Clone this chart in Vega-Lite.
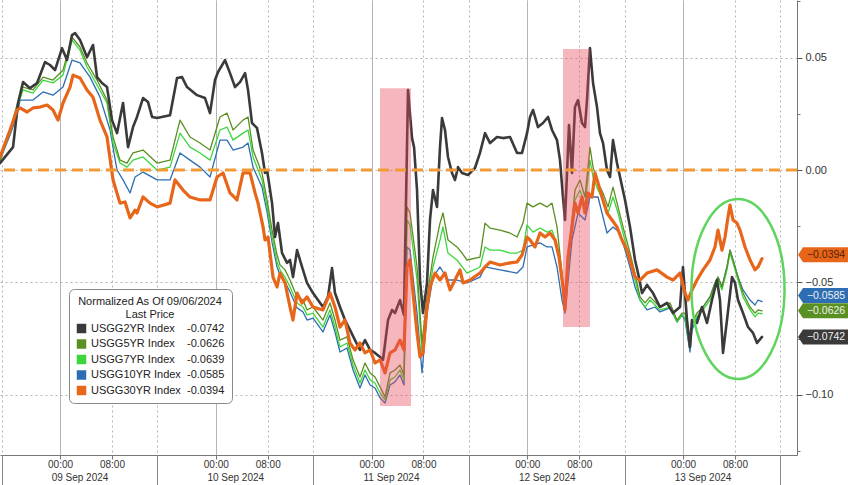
{
  "$schema": "https://vega.github.io/schema/vega-lite/v6.json",
  "width": 797,
  "height": 455,
  "autosize": {"type": "none"},
  "padding": {"left": 0, "top": 0, "right": 51, "bottom": 30},
  "background": "#ffffff",
  "config": {
    "view": {"stroke": null},
    "font": "Liberation Sans",
    "axis": {"labelFont": "Liberation Sans", "labelColor": "#333333", "labelFontSize": 11, "title": null},
    "legend": {"labelFont": "Liberation Sans", "titleFont": "Liberation Sans"}
  },
  "datasets": {
    "series": [
      {"s":"10YR","h":-9.25,"v":0.0044},{"s":"10YR","h":-7.70,"v":0.0156},{"s":"10YR","h":-6.63,"v":0.0244},{"s":"10YR","h":-6.16,"v":0.0311},{"s":"10YR","h":-4.16,"v":0.0311},{"s":"10YR","h":-2.62,"v":0.0347},{"s":"10YR","h":-1.08,"v":0.0333},{"s":"10YR","h":0.46,"v":0.0369},{"s":"10YR","h":1.85,"v":0.0489},{"s":"10YR","h":3.08,"v":0.0476},{"s":"10YR","h":4.62,"v":0.0413},{"s":"10YR","h":6.16,"v":0.0324},{"s":"10YR","h":7.70,"v":0.0178},{"s":"10YR","h":8.78,"v":0.0000},{"s":"10YR","h":9.71,"v":-0.0044},{"s":"10YR","h":10.79,"v":-0.0102},{"s":"10YR","h":11.56,"v":-0.0031},{"s":"10YR","h":12.79,"v":-0.0009},{"s":"10YR","h":14.95,"v":-0.0044},{"s":"10YR","h":16.95,"v":-0.0044},{"s":"10YR","h":18.49,"v":0.0076},{"s":"10YR","h":20.03,"v":0.0044},{"s":"10YR","h":21.57,"v":0.0013},{"s":"10YR","h":23.11,"v":-0.0031},{"s":"10YR","h":24.65,"v":0.0133},{"s":"10YR","h":25.73,"v":0.0133},{"s":"10YR","h":26.66,"v":0.0089},{"s":"10YR","h":28.20,"v":0.0102},{"s":"10YR","h":28.97,"v":0.0120},{"s":"10YR","h":29.74,"v":0.0013},{"s":"10YR","h":31.12,"v":-0.0076},{"s":"10YR","h":31.90,"v":-0.0187},{"s":"10YR","h":32.67,"v":-0.0320},{"s":"10YR","h":33.44,"v":-0.0431},{"s":"10YR","h":33.90,"v":-0.0467},{"s":"10YR","h":34.67,"v":-0.0498},{"s":"10YR","h":35.44,"v":-0.0542},{"s":"10YR","h":36.52,"v":-0.0613},{"s":"10YR","h":37.44,"v":-0.0631},{"s":"10YR","h":38.06,"v":-0.0667},{"s":"10YR","h":38.98,"v":-0.0658},{"s":"10YR","h":40.52,"v":-0.0720},{"s":"10YR","h":41.60,"v":-0.0644},{"s":"10YR","h":42.37,"v":-0.0720},{"s":"10YR","h":43.14,"v":-0.0809},{"s":"10YR","h":44.22,"v":-0.0791},{"s":"10YR","h":45.15,"v":-0.0889},{"s":"10YR","h":46.22,"v":-0.0969},{"s":"10YR","h":46.99,"v":-0.0911},{"s":"10YR","h":47.77,"v":-0.0956},{"s":"10YR","h":48.54,"v":-0.0969},{"s":"10YR","h":49.31,"v":-0.1013},{"s":"10YR","h":50.08,"v":-0.1036},{"s":"10YR","h":50.85,"v":-0.0956},{"s":"10YR","h":51.62,"v":-0.0942},{"s":"10YR","h":52.39,"v":-0.0911},{"s":"10YR","h":53.00,"v":-0.0956},{"s":"10YR","h":53.47,"v":-0.0342},{"s":"10YR","h":53.93,"v":-0.0356},{"s":"10YR","h":55.01,"v":-0.0636},{"s":"10YR","h":55.78,"v":-0.0902},{"s":"10YR","h":56.55,"v":-0.0636},{"s":"10YR","h":57.47,"v":-0.0476},{"s":"10YR","h":58.55,"v":-0.0431},{"s":"10YR","h":59.78,"v":-0.0489},{"s":"10YR","h":61.17,"v":-0.0489},{"s":"10YR","h":62.71,"v":-0.0502},{"s":"10YR","h":64.71,"v":-0.0476},{"s":"10YR","h":65.49,"v":-0.0431},{"s":"10YR","h":67.80,"v":-0.0444},{"s":"10YR","h":70.42,"v":-0.0458},{"s":"10YR","h":71.34,"v":-0.0431},{"s":"10YR","h":71.96,"v":-0.0342},{"s":"10YR","h":73.96,"v":-0.0324},{"s":"10YR","h":75.04,"v":-0.0342},{"s":"10YR","h":75.81,"v":-0.0342},{"s":"10YR","h":76.58,"v":-0.0431},{"s":"10YR","h":77.35,"v":-0.0578},{"s":"10YR","h":77.81,"v":-0.0636},{"s":"10YR","h":78.89,"v":-0.0311},{"s":"10YR","h":79.82,"v":-0.0191},{"s":"10YR","h":80.89,"v":-0.0222},{"s":"10YR","h":81.66,"v":-0.0120},{"s":"10YR","h":82.90,"v":-0.0120},{"s":"10YR","h":84.28,"v":-0.0280},{"s":"10YR","h":85.21,"v":-0.0253},{"s":"10YR","h":86.29,"v":-0.0280},{"s":"10YR","h":87.83,"v":-0.0431},{"s":"10YR","h":88.60,"v":-0.0520},{"s":"10YR","h":89.37,"v":-0.0578},{"s":"10YR","h":90.45,"v":-0.0622},{"s":"10YR","h":91.68,"v":-0.0609},{"s":"10YR","h":92.45,"v":-0.0631},{"s":"10YR","h":93.99,"v":-0.0613},{"s":"10YR","h":95.07,"v":-0.0676},{"s":"10YR","h":95.84,"v":-0.0644},{"s":"10YR","h":96.30,"v":-0.0667},{"s":"10YR","h":97.07,"v":-0.0809},{"s":"10YR","h":97.38,"v":-0.0711},{"s":"10YR","h":98.15,"v":-0.0658},{"s":"10YR","h":99.08,"v":-0.0609},{"s":"10YR","h":100.15,"v":-0.0564},{"s":"10YR","h":100.92,"v":-0.0502},{"s":"10YR","h":101.39,"v":-0.0476},{"s":"10YR","h":102.00,"v":-0.0520},{"s":"10YR","h":102.77,"v":-0.0431},{"s":"10YR","h":103.24,"v":-0.0356},{"s":"10YR","h":103.70,"v":-0.0400},{"s":"10YR","h":104.47,"v":-0.0476},{"s":"10YR","h":105.24,"v":-0.0533},{"s":"10YR","h":106.32,"v":-0.0578},{"s":"10YR","h":107.09,"v":-0.0600},{"s":"10YR","h":107.55,"v":-0.0578},{"s":"10YR","h":108.17,"v":-0.0585},

      {"s":"7YR","h":-9.25,"v":0.0044},{"s":"7YR","h":-7.70,"v":0.0169},{"s":"7YR","h":-6.63,"v":0.0276},{"s":"7YR","h":-5.70,"v":0.0356},{"s":"7YR","h":-4.16,"v":0.0342},{"s":"7YR","h":-2.62,"v":0.0400},{"s":"7YR","h":-1.08,"v":0.0387},{"s":"7YR","h":0.46,"v":0.0422},{"s":"7YR","h":1.85,"v":0.0578},{"s":"7YR","h":3.08,"v":0.0533},{"s":"7YR","h":4.16,"v":0.0458},{"s":"7YR","h":5.70,"v":0.0378},{"s":"7YR","h":7.24,"v":0.0298},{"s":"7YR","h":8.17,"v":0.0120},{"s":"7YR","h":9.24,"v":0.0031},{"s":"7YR","h":10.32,"v":0.0013},{"s":"7YR","h":11.25,"v":0.0044},{"s":"7YR","h":12.79,"v":0.0058},{"s":"7YR","h":14.95,"v":0.0000},{"s":"7YR","h":16.95,"v":0.0013},{"s":"7YR","h":18.49,"v":0.0164},{"s":"7YR","h":20.03,"v":0.0102},{"s":"7YR","h":21.57,"v":0.0076},{"s":"7YR","h":23.11,"v":0.0044},{"s":"7YR","h":24.65,"v":0.0178},{"s":"7YR","h":25.73,"v":0.0191},{"s":"7YR","h":26.66,"v":0.0133},{"s":"7YR","h":28.20,"v":0.0164},{"s":"7YR","h":28.97,"v":0.0178},{"s":"7YR","h":29.74,"v":0.0058},{"s":"7YR","h":31.12,"v":-0.0044},{"s":"7YR","h":31.90,"v":-0.0164},{"s":"7YR","h":32.67,"v":-0.0298},{"s":"7YR","h":33.44,"v":-0.0409},{"s":"7YR","h":33.90,"v":-0.0444},{"s":"7YR","h":34.67,"v":-0.0476},{"s":"7YR","h":35.44,"v":-0.0520},{"s":"7YR","h":36.52,"v":-0.0591},{"s":"7YR","h":37.44,"v":-0.0609},{"s":"7YR","h":38.06,"v":-0.0644},{"s":"7YR","h":38.98,"v":-0.0636},{"s":"7YR","h":40.52,"v":-0.0698},{"s":"7YR","h":41.60,"v":-0.0622},{"s":"7YR","h":42.37,"v":-0.0698},{"s":"7YR","h":43.14,"v":-0.0787},{"s":"7YR","h":44.22,"v":-0.0769},{"s":"7YR","h":45.15,"v":-0.0867},{"s":"7YR","h":46.22,"v":-0.0947},{"s":"7YR","h":46.99,"v":-0.0889},{"s":"7YR","h":47.77,"v":-0.0933},{"s":"7YR","h":48.54,"v":-0.0947},{"s":"7YR","h":49.31,"v":-0.0991},{"s":"7YR","h":50.08,"v":-0.1022},{"s":"7YR","h":50.85,"v":-0.0933},{"s":"7YR","h":51.62,"v":-0.0920},{"s":"7YR","h":52.39,"v":-0.0889},{"s":"7YR","h":53.00,"v":-0.0933},{"s":"7YR","h":53.47,"v":-0.0222},{"s":"7YR","h":53.93,"v":-0.0244},{"s":"7YR","h":55.01,"v":-0.0489},{"s":"7YR","h":55.78,"v":-0.0813},{"s":"7YR","h":56.55,"v":-0.0609},{"s":"7YR","h":57.47,"v":-0.0431},{"s":"7YR","h":58.55,"v":-0.0311},{"s":"7YR","h":59.01,"v":-0.0253},{"s":"7YR","h":59.78,"v":-0.0369},{"s":"7YR","h":61.17,"v":-0.0400},{"s":"7YR","h":62.71,"v":-0.0458},{"s":"7YR","h":64.71,"v":-0.0431},{"s":"7YR","h":65.49,"v":-0.0342},{"s":"7YR","h":66.26,"v":-0.0356},{"s":"7YR","h":67.80,"v":-0.0356},{"s":"7YR","h":69.34,"v":-0.0369},{"s":"7YR","h":70.42,"v":-0.0369},{"s":"7YR","h":71.34,"v":-0.0356},{"s":"7YR","h":71.96,"v":-0.0244},{"s":"7YR","h":72.88,"v":-0.0276},{"s":"7YR","h":73.96,"v":-0.0258},{"s":"7YR","h":75.04,"v":-0.0276},{"s":"7YR","h":75.81,"v":-0.0267},{"s":"7YR","h":76.58,"v":-0.0333},{"s":"7YR","h":77.35,"v":-0.0502},{"s":"7YR","h":77.81,"v":-0.0622},{"s":"7YR","h":78.58,"v":-0.0342},{"s":"7YR","h":79.35,"v":-0.0133},{"s":"7YR","h":80.12,"v":-0.0089},{"s":"7YR","h":80.89,"v":-0.0156},{"s":"7YR","h":81.66,"v":0.0044},{"s":"7YR","h":82.13,"v":-0.0031},{"s":"7YR","h":82.90,"v":-0.0089},{"s":"7YR","h":83.67,"v":-0.0133},{"s":"7YR","h":84.44,"v":-0.0191},{"s":"7YR","h":85.21,"v":-0.0120},{"s":"7YR","h":85.98,"v":-0.0191},{"s":"7YR","h":86.75,"v":-0.0280},{"s":"7YR","h":87.83,"v":-0.0400},{"s":"7YR","h":88.60,"v":-0.0489},{"s":"7YR","h":89.37,"v":-0.0578},{"s":"7YR","h":90.14,"v":-0.0609},{"s":"7YR","h":90.91,"v":-0.0578},{"s":"7YR","h":92.45,"v":-0.0622},{"s":"7YR","h":93.99,"v":-0.0609},{"s":"7YR","h":95.07,"v":-0.0676},{"s":"7YR","h":95.84,"v":-0.0644},{"s":"7YR","h":96.30,"v":-0.0658},{"s":"7YR","h":97.07,"v":-0.0791},{"s":"7YR","h":97.38,"v":-0.0693},{"s":"7YR","h":98.15,"v":-0.0649},{"s":"7YR","h":99.08,"v":-0.0622},{"s":"7YR","h":100.15,"v":-0.0578},{"s":"7YR","h":100.92,"v":-0.0520},{"s":"7YR","h":101.39,"v":-0.0489},{"s":"7YR","h":102.00,"v":-0.0533},{"s":"7YR","h":102.77,"v":-0.0444},{"s":"7YR","h":103.24,"v":-0.0369},{"s":"7YR","h":103.70,"v":-0.0413},{"s":"7YR","h":104.47,"v":-0.0489},{"s":"7YR","h":105.24,"v":-0.0564},{"s":"7YR","h":106.32,"v":-0.0622},{"s":"7YR","h":107.09,"v":-0.0653},{"s":"7YR","h":107.55,"v":-0.0636},{"s":"7YR","h":108.17,"v":-0.0639},

      {"s":"5YR","h":-9.25,"v":0.0044},{"s":"5YR","h":-7.70,"v":0.0178},{"s":"5YR","h":-6.63,"v":0.0289},{"s":"5YR","h":-5.70,"v":0.0369},{"s":"5YR","h":-4.16,"v":0.0356},{"s":"5YR","h":-2.62,"v":0.0413},{"s":"5YR","h":-1.08,"v":0.0400},{"s":"5YR","h":0.46,"v":0.0444},{"s":"5YR","h":1.85,"v":0.0591},{"s":"5YR","h":3.08,"v":0.0547},{"s":"5YR","h":4.16,"v":0.0476},{"s":"5YR","h":5.70,"v":0.0400},{"s":"5YR","h":7.24,"v":0.0311},{"s":"5YR","h":8.17,"v":0.0147},{"s":"5YR","h":9.24,"v":0.0044},{"s":"5YR","h":10.32,"v":0.0031},{"s":"5YR","h":11.25,"v":0.0076},{"s":"5YR","h":12.79,"v":0.0089},{"s":"5YR","h":14.95,"v":0.0031},{"s":"5YR","h":16.95,"v":0.0044},{"s":"5YR","h":18.49,"v":0.0222},{"s":"5YR","h":20.03,"v":0.0147},{"s":"5YR","h":21.57,"v":0.0120},{"s":"5YR","h":23.11,"v":0.0089},{"s":"5YR","h":24.65,"v":0.0236},{"s":"5YR","h":25.73,"v":0.0253},{"s":"5YR","h":26.66,"v":0.0178},{"s":"5YR","h":28.20,"v":0.0222},{"s":"5YR","h":28.97,"v":0.0236},{"s":"5YR","h":29.74,"v":0.0089},{"s":"5YR","h":31.12,"v":-0.0013},{"s":"5YR","h":31.90,"v":-0.0133},{"s":"5YR","h":32.67,"v":-0.0267},{"s":"5YR","h":33.44,"v":-0.0378},{"s":"5YR","h":33.90,"v":-0.0422},{"s":"5YR","h":34.67,"v":-0.0444},{"s":"5YR","h":35.44,"v":-0.0489},{"s":"5YR","h":36.52,"v":-0.0564},{"s":"5YR","h":37.44,"v":-0.0578},{"s":"5YR","h":38.06,"v":-0.0622},{"s":"5YR","h":38.98,"v":-0.0609},{"s":"5YR","h":40.52,"v":-0.0667},{"s":"5YR","h":41.60,"v":-0.0591},{"s":"5YR","h":42.37,"v":-0.0667},{"s":"5YR","h":43.14,"v":-0.0756},{"s":"5YR","h":44.22,"v":-0.0742},{"s":"5YR","h":45.15,"v":-0.0844},{"s":"5YR","h":46.22,"v":-0.0920},{"s":"5YR","h":46.99,"v":-0.0858},{"s":"5YR","h":47.77,"v":-0.0902},{"s":"5YR","h":48.54,"v":-0.0920},{"s":"5YR","h":49.31,"v":-0.0964},{"s":"5YR","h":50.08,"v":-0.1009},{"s":"5YR","h":50.85,"v":-0.0902},{"s":"5YR","h":51.62,"v":-0.0889},{"s":"5YR","h":52.39,"v":-0.0867},{"s":"5YR","h":53.00,"v":-0.0911},{"s":"5YR","h":53.47,"v":-0.0164},{"s":"5YR","h":53.93,"v":-0.0191},{"s":"5YR","h":55.01,"v":-0.0431},{"s":"5YR","h":55.78,"v":-0.0769},{"s":"5YR","h":56.55,"v":-0.0564},{"s":"5YR","h":57.47,"v":-0.0387},{"s":"5YR","h":58.55,"v":-0.0236},{"s":"5YR","h":59.01,"v":-0.0191},{"s":"5YR","h":59.78,"v":-0.0311},{"s":"5YR","h":61.17,"v":-0.0342},{"s":"5YR","h":61.94,"v":-0.0369},{"s":"5YR","h":62.71,"v":-0.0400},{"s":"5YR","h":64.71,"v":-0.0387},{"s":"5YR","h":65.49,"v":-0.0236},{"s":"5YR","h":66.26,"v":-0.0258},{"s":"5YR","h":67.80,"v":-0.0267},{"s":"5YR","h":69.34,"v":-0.0280},{"s":"5YR","h":70.42,"v":-0.0298},{"s":"5YR","h":71.34,"v":-0.0236},{"s":"5YR","h":71.96,"v":-0.0147},{"s":"5YR","h":72.88,"v":-0.0164},{"s":"5YR","h":73.96,"v":-0.0147},{"s":"5YR","h":75.04,"v":-0.0164},{"s":"5YR","h":75.81,"v":-0.0147},{"s":"5YR","h":76.58,"v":-0.0253},{"s":"5YR","h":77.35,"v":-0.0458},{"s":"5YR","h":77.81,"v":-0.0609},{"s":"5YR","h":78.58,"v":-0.0311},{"s":"5YR","h":79.35,"v":-0.0089},{"s":"5YR","h":80.12,"v":-0.0044},{"s":"5YR","h":80.89,"v":-0.0120},{"s":"5YR","h":81.66,"v":0.0102},{"s":"5YR","h":82.13,"v":0.0013},{"s":"5YR","h":82.90,"v":-0.0058},{"s":"5YR","h":83.67,"v":-0.0102},{"s":"5YR","h":84.44,"v":-0.0164},{"s":"5YR","h":85.21,"v":-0.0076},{"s":"5YR","h":85.98,"v":-0.0164},{"s":"5YR","h":86.75,"v":-0.0253},{"s":"5YR","h":87.83,"v":-0.0369},{"s":"5YR","h":88.60,"v":-0.0458},{"s":"5YR","h":89.37,"v":-0.0564},{"s":"5YR","h":90.14,"v":-0.0591},{"s":"5YR","h":90.91,"v":-0.0564},{"s":"5YR","h":92.45,"v":-0.0609},{"s":"5YR","h":93.99,"v":-0.0591},{"s":"5YR","h":95.07,"v":-0.0667},{"s":"5YR","h":95.84,"v":-0.0636},{"s":"5YR","h":96.30,"v":-0.0636},{"s":"5YR","h":97.07,"v":-0.0778},{"s":"5YR","h":97.38,"v":-0.0680},{"s":"5YR","h":98.15,"v":-0.0636},{"s":"5YR","h":99.08,"v":-0.0609},{"s":"5YR","h":100.15,"v":-0.0564},{"s":"5YR","h":100.92,"v":-0.0502},{"s":"5YR","h":101.39,"v":-0.0476},{"s":"5YR","h":102.00,"v":-0.0520},{"s":"5YR","h":102.77,"v":-0.0431},{"s":"5YR","h":103.24,"v":-0.0356},{"s":"5YR","h":103.70,"v":-0.0400},{"s":"5YR","h":104.47,"v":-0.0476},{"s":"5YR","h":105.24,"v":-0.0547},{"s":"5YR","h":106.32,"v":-0.0609},{"s":"5YR","h":107.09,"v":-0.0636},{"s":"5YR","h":107.55,"v":-0.0622},{"s":"5YR","h":108.17,"v":-0.0626},

      {"s":"2YR","h":-9.25,"v":0.0031},{"s":"2YR","h":-7.24,"v":0.0102},{"s":"2YR","h":-6.47,"v":0.0298},{"s":"2YR","h":-5.70,"v":0.0391},{"s":"2YR","h":-4.62,"v":0.0364},{"s":"2YR","h":-3.54,"v":0.0387},{"s":"2YR","h":-2.31,"v":0.0480},{"s":"2YR","h":-1.54,"v":0.0467},{"s":"2YR","h":-0.77,"v":0.0444},{"s":"2YR","h":0.31,"v":0.0542},{"s":"2YR","h":1.08,"v":0.0489},{"s":"2YR","h":1.85,"v":0.0600},{"s":"2YR","h":2.31,"v":0.0609},{"s":"2YR","h":3.08,"v":0.0578},{"s":"2YR","h":4.16,"v":0.0502},{"s":"2YR","h":5.08,"v":0.0556},{"s":"2YR","h":5.70,"v":0.0413},{"s":"2YR","h":6.47,"v":0.0387},{"s":"2YR","h":7.24,"v":0.0369},{"s":"2YR","h":8.01,"v":0.0222},{"s":"2YR","h":8.78,"v":0.0164},{"s":"2YR","h":9.71,"v":0.0298},{"s":"2YR","h":10.48,"v":0.0102},{"s":"2YR","h":11.25,"v":0.0191},{"s":"2YR","h":11.86,"v":0.0236},{"s":"2YR","h":12.79,"v":0.0320},{"s":"2YR","h":13.56,"v":0.0302},{"s":"2YR","h":14.18,"v":0.0236},{"s":"2YR","h":14.95,"v":0.0231},{"s":"2YR","h":16.95,"v":0.0244},{"s":"2YR","h":18.03,"v":0.0409},{"s":"2YR","h":18.80,"v":0.0413},{"s":"2YR","h":19.57,"v":0.0369},{"s":"2YR","h":21.11,"v":0.0333},{"s":"2YR","h":22.34,"v":0.0320},{"s":"2YR","h":23.11,"v":0.0253},{"s":"2YR","h":23.88,"v":0.0400},{"s":"2YR","h":24.35,"v":0.0436},{"s":"2YR","h":25.42,"v":0.0489},{"s":"2YR","h":26.19,"v":0.0431},{"s":"2YR","h":26.96,"v":0.0369},{"s":"2YR","h":27.73,"v":0.0391},{"s":"2YR","h":28.51,"v":0.0431},{"s":"2YR","h":28.97,"v":0.0356},{"s":"2YR","h":29.58,"v":0.0209},{"s":"2YR","h":30.35,"v":0.0187},{"s":"2YR","h":31.12,"v":0.0076},{"s":"2YR","h":31.59,"v":-0.0013},{"s":"2YR","h":31.90,"v":0.0000},{"s":"2YR","h":32.67,"v":-0.0147},{"s":"2YR","h":33.13,"v":-0.0298},{"s":"2YR","h":33.59,"v":-0.0236},{"s":"2YR","h":34.21,"v":-0.0369},{"s":"2YR","h":34.98,"v":-0.0413},{"s":"2YR","h":35.44,"v":-0.0400},{"s":"2YR","h":35.90,"v":-0.0476},{"s":"2YR","h":36.52,"v":-0.0356},{"s":"2YR","h":37.29,"v":-0.0431},{"s":"2YR","h":38.06,"v":-0.0502},{"s":"2YR","h":38.98,"v":-0.0547},{"s":"2YR","h":40.52,"v":-0.0609},{"s":"2YR","h":41.29,"v":-0.0564},{"s":"2YR","h":41.91,"v":-0.0436},{"s":"2YR","h":42.37,"v":-0.0547},{"s":"2YR","h":43.14,"v":-0.0609},{"s":"2YR","h":43.91,"v":-0.0667},{"s":"2YR","h":44.68,"v":-0.0711},{"s":"2YR","h":45.45,"v":-0.0756},{"s":"2YR","h":46.22,"v":-0.0800},{"s":"2YR","h":46.99,"v":-0.0756},{"s":"2YR","h":47.77,"v":-0.0800},{"s":"2YR","h":48.54,"v":-0.0813},{"s":"2YR","h":49.31,"v":-0.0831},{"s":"2YR","h":49.77,"v":-0.0844},{"s":"2YR","h":50.54,"v":-0.0667},{"s":"2YR","h":51.16,"v":-0.0622},{"s":"2YR","h":51.62,"v":-0.0636},{"s":"2YR","h":52.39,"v":-0.0578},{"s":"2YR","h":53.00,"v":-0.0644},{"s":"2YR","h":53.62,"v":0.0356},{"s":"2YR","h":54.24,"v":0.0142},{"s":"2YR","h":54.55,"v":0.0102},{"s":"2YR","h":55.01,"v":-0.0089},{"s":"2YR","h":55.47,"v":-0.0489},{"s":"2YR","h":55.93,"v":-0.0636},{"s":"2YR","h":56.55,"v":-0.0502},{"s":"2YR","h":57.01,"v":-0.0222},{"s":"2YR","h":57.47,"v":-0.0089},{"s":"2YR","h":58.09,"v":-0.0164},{"s":"2YR","h":58.55,"v":0.0102},{"s":"2YR","h":58.86,"v":0.0231},{"s":"2YR","h":59.32,"v":0.0178},{"s":"2YR","h":59.78,"v":0.0058},{"s":"2YR","h":60.40,"v":-0.0013},{"s":"2YR","h":60.86,"v":-0.0044},{"s":"2YR","h":61.33,"v":0.0013},{"s":"2YR","h":61.94,"v":-0.0013},{"s":"2YR","h":62.87,"v":-0.0022},{"s":"2YR","h":63.94,"v":0.0009},{"s":"2YR","h":64.71,"v":0.0076},{"s":"2YR","h":65.49,"v":0.0164},{"s":"2YR","h":66.26,"v":0.0120},{"s":"2YR","h":67.33,"v":0.0147},{"s":"2YR","h":68.26,"v":0.0142},{"s":"2YR","h":69.34,"v":0.0147},{"s":"2YR","h":70.42,"v":0.0076},{"s":"2YR","h":71.19,"v":0.0076},{"s":"2YR","h":71.96,"v":0.0164},{"s":"2YR","h":72.42,"v":0.0236},{"s":"2YR","h":72.88,"v":0.0267},{"s":"2YR","h":73.65,"v":0.0191},{"s":"2YR","h":74.42,"v":0.0209},{"s":"2YR","h":75.19,"v":0.0236},{"s":"2YR","h":75.81,"v":0.0178},{"s":"2YR","h":76.58,"v":0.0133},{"s":"2YR","h":77.04,"v":0.0044},{"s":"2YR","h":77.50,"v":-0.0120},{"s":"2YR","h":77.81,"v":-0.0222},{"s":"2YR","h":78.12,"v":-0.0013},{"s":"2YR","h":78.43,"v":0.0200},{"s":"2YR","h":78.89,"v":-0.0013},{"s":"2YR","h":79.35,"v":0.0280},{"s":"2YR","h":79.82,"v":0.0311},{"s":"2YR","h":80.43,"v":0.0209},{"s":"2YR","h":80.89,"v":0.0191},{"s":"2YR","h":81.20,"v":0.0311},{"s":"2YR","h":81.66,"v":0.0542},{"s":"2YR","h":82.13,"v":0.0387},{"s":"2YR","h":82.74,"v":0.0280},{"s":"2YR","h":83.20,"v":0.0164},{"s":"2YR","h":83.67,"v":0.0120},{"s":"2YR","h":84.28,"v":0.0000},{"s":"2YR","h":84.75,"v":-0.0031},{"s":"2YR","h":85.21,"v":0.0133},{"s":"2YR","h":85.82,"v":0.0031},{"s":"2YR","h":86.29,"v":-0.0031},{"s":"2YR","h":87.06,"v":-0.0133},{"s":"2YR","h":87.83,"v":-0.0253},{"s":"2YR","h":88.60,"v":-0.0400},{"s":"2YR","h":89.06,"v":-0.0458},{"s":"2YR","h":89.68,"v":-0.0547},{"s":"2YR","h":90.45,"v":-0.0511},{"s":"2YR","h":91.37,"v":-0.0547},{"s":"2YR","h":92.45,"v":-0.0609},{"s":"2YR","h":93.53,"v":-0.0591},{"s":"2YR","h":94.45,"v":-0.0636},{"s":"2YR","h":95.53,"v":-0.0609},{"s":"2YR","h":95.99,"v":-0.0431},{"s":"2YR","h":96.61,"v":-0.0667},{"s":"2YR","h":97.07,"v":-0.0787},{"s":"2YR","h":97.38,"v":-0.0667},{"s":"2YR","h":98.15,"v":-0.0680},{"s":"2YR","h":98.92,"v":-0.0609},{"s":"2YR","h":99.69,"v":-0.0680},{"s":"2YR","h":100.46,"v":-0.0578},{"s":"2YR","h":101.23,"v":-0.0489},{"s":"2YR","h":101.69,"v":-0.0578},{"s":"2YR","h":102.16,"v":-0.0813},{"s":"2YR","h":102.77,"v":-0.0667},{"s":"2YR","h":103.54,"v":-0.0476},{"s":"2YR","h":104.01,"v":-0.0502},{"s":"2YR","h":104.47,"v":-0.0578},{"s":"2YR","h":105.24,"v":-0.0636},{"s":"2YR","h":106.01,"v":-0.0698},{"s":"2YR","h":106.78,"v":-0.0724},{"s":"2YR","h":107.40,"v":-0.0769},{"s":"2YR","h":108.17,"v":-0.0742},

      {"s":"30YR","h":-9.25,"v":0.0058},{"s":"30YR","h":-7.70,"v":0.0178},{"s":"30YR","h":-6.63,"v":0.0267},{"s":"30YR","h":-6.16,"v":0.0276},{"s":"30YR","h":-5.08,"v":0.0258},{"s":"30YR","h":-4.16,"v":0.0276},{"s":"30YR","h":-3.08,"v":0.0280},{"s":"30YR","h":-2.00,"v":0.0289},{"s":"30YR","h":-1.08,"v":0.0267},{"s":"30YR","h":-0.31,"v":0.0222},{"s":"30YR","h":0.46,"v":0.0298},{"s":"30YR","h":1.54,"v":0.0369},{"s":"30YR","h":2.00,"v":0.0422},{"s":"30YR","h":3.08,"v":0.0409},{"s":"30YR","h":4.16,"v":0.0356},{"s":"30YR","h":5.08,"v":0.0324},{"s":"30YR","h":6.16,"v":0.0222},{"s":"30YR","h":7.24,"v":0.0147},{"s":"30YR","h":8.17,"v":-0.0044},{"s":"30YR","h":9.24,"v":-0.0147},{"s":"30YR","h":10.02,"v":-0.0142},{"s":"30YR","h":10.79,"v":-0.0213},{"s":"30YR","h":11.56,"v":-0.0178},{"s":"30YR","h":11.86,"v":-0.0191},{"s":"30YR","h":12.79,"v":-0.0120},{"s":"30YR","h":13.87,"v":-0.0147},{"s":"30YR","h":14.95,"v":-0.0164},{"s":"30YR","h":16.95,"v":-0.0147},{"s":"30YR","h":17.72,"v":-0.0044},{"s":"30YR","h":18.95,"v":-0.0089},{"s":"30YR","h":20.03,"v":-0.0120},{"s":"30YR","h":21.57,"v":-0.0133},{"s":"30YR","h":23.11,"v":-0.0133},{"s":"30YR","h":24.19,"v":-0.0031},{"s":"30YR","h":25.12,"v":-0.0013},{"s":"30YR","h":26.19,"v":-0.0102},{"s":"30YR","h":27.27,"v":-0.0133},{"s":"30YR","h":28.20,"v":-0.0013},{"s":"30YR","h":29.28,"v":-0.0013},{"s":"30YR","h":30.05,"v":-0.0102},{"s":"30YR","h":30.51,"v":-0.0147},{"s":"30YR","h":31.28,"v":-0.0253},{"s":"30YR","h":31.59,"v":-0.0311},{"s":"30YR","h":32.05,"v":-0.0298},{"s":"30YR","h":32.82,"v":-0.0476},{"s":"30YR","h":33.44,"v":-0.0520},{"s":"30YR","h":33.90,"v":-0.0458},{"s":"30YR","h":34.67,"v":-0.0502},{"s":"30YR","h":35.44,"v":-0.0609},{"s":"30YR","h":35.90,"v":-0.0667},{"s":"30YR","h":36.52,"v":-0.0547},{"s":"30YR","h":37.29,"v":-0.0591},{"s":"30YR","h":38.06,"v":-0.0564},{"s":"30YR","h":38.98,"v":-0.0609},{"s":"30YR","h":40.52,"v":-0.0622},{"s":"30YR","h":41.60,"v":-0.0547},{"s":"30YR","h":42.37,"v":-0.0609},{"s":"30YR","h":43.14,"v":-0.0698},{"s":"30YR","h":43.91,"v":-0.0667},{"s":"30YR","h":44.68,"v":-0.0769},{"s":"30YR","h":45.45,"v":-0.0800},{"s":"30YR","h":46.22,"v":-0.0769},{"s":"30YR","h":46.99,"v":-0.0813},{"s":"30YR","h":47.77,"v":-0.0800},{"s":"30YR","h":48.54,"v":-0.0858},{"s":"30YR","h":49.31,"v":-0.0844},{"s":"30YR","h":50.08,"v":-0.0902},{"s":"30YR","h":50.85,"v":-0.0813},{"s":"30YR","h":51.62,"v":-0.0800},{"s":"30YR","h":52.39,"v":-0.0756},{"s":"30YR","h":53.00,"v":-0.0800},{"s":"30YR","h":53.47,"v":-0.0431},{"s":"30YR","h":53.93,"v":-0.0400},{"s":"30YR","h":54.39,"v":-0.0547},{"s":"30YR","h":55.01,"v":-0.0724},{"s":"30YR","h":55.47,"v":-0.0831},{"s":"30YR","h":55.93,"v":-0.0813},{"s":"30YR","h":56.55,"v":-0.0609},{"s":"30YR","h":57.01,"v":-0.0520},{"s":"30YR","h":57.78,"v":-0.0458},{"s":"30YR","h":58.55,"v":-0.0489},{"s":"30YR","h":59.32,"v":-0.0458},{"s":"30YR","h":60.09,"v":-0.0533},{"s":"30YR","h":60.86,"v":-0.0489},{"s":"30YR","h":61.63,"v":-0.0444},{"s":"30YR","h":62.10,"v":-0.0502},{"s":"30YR","h":63.17,"v":-0.0489},{"s":"30YR","h":64.71,"v":-0.0458},{"s":"30YR","h":65.49,"v":-0.0431},{"s":"30YR","h":66.26,"v":-0.0409},{"s":"30YR","h":67.80,"v":-0.0422},{"s":"30YR","h":69.34,"v":-0.0413},{"s":"30YR","h":70.42,"v":-0.0409},{"s":"30YR","h":71.19,"v":-0.0378},{"s":"30YR","h":71.96,"v":-0.0298},{"s":"30YR","h":72.42,"v":-0.0311},{"s":"30YR","h":73.19,"v":-0.0342},{"s":"30YR","h":73.96,"v":-0.0280},{"s":"30YR","h":74.73,"v":-0.0298},{"s":"30YR","h":75.50,"v":-0.0280},{"s":"30YR","h":76.27,"v":-0.0311},{"s":"30YR","h":76.89,"v":-0.0387},{"s":"30YR","h":77.50,"v":-0.0520},{"s":"30YR","h":77.81,"v":-0.0622},{"s":"30YR","h":78.27,"v":-0.0387},{"s":"30YR","h":78.89,"v":-0.0253},{"s":"30YR","h":79.35,"v":-0.0147},{"s":"30YR","h":79.82,"v":-0.0191},{"s":"30YR","h":80.43,"v":-0.0120},{"s":"30YR","h":80.89,"v":-0.0191},{"s":"30YR","h":81.36,"v":-0.0102},{"s":"30YR","h":81.97,"v":-0.0120},{"s":"30YR","h":82.43,"v":-0.0013},{"s":"30YR","h":82.90,"v":-0.0058},{"s":"30YR","h":83.51,"v":-0.0120},{"s":"30YR","h":84.28,"v":-0.0191},{"s":"30YR","h":85.05,"v":-0.0222},{"s":"30YR","h":85.82,"v":-0.0253},{"s":"30YR","h":86.59,"v":-0.0311},{"s":"30YR","h":87.37,"v":-0.0356},{"s":"30YR","h":88.14,"v":-0.0431},{"s":"30YR","h":88.60,"v":-0.0476},{"s":"30YR","h":89.37,"v":-0.0489},{"s":"30YR","h":90.45,"v":-0.0458},{"s":"30YR","h":91.99,"v":-0.0444},{"s":"30YR","h":93.53,"v":-0.0476},{"s":"30YR","h":94.45,"v":-0.0489},{"s":"30YR","h":95.53,"v":-0.0458},{"s":"30YR","h":96.30,"v":-0.0547},{"s":"30YR","h":96.76,"v":-0.0578},{"s":"30YR","h":97.38,"v":-0.0533},{"s":"30YR","h":98.15,"v":-0.0489},{"s":"30YR","h":99.08,"v":-0.0444},{"s":"30YR","h":100.15,"v":-0.0400},{"s":"30YR","h":100.92,"v":-0.0342},{"s":"30YR","h":101.39,"v":-0.0267},{"s":"30YR","h":102.00,"v":-0.0356},{"s":"30YR","h":102.47,"v":-0.0298},{"s":"30YR","h":102.93,"v":-0.0209},{"s":"30YR","h":103.24,"v":-0.0156},{"s":"30YR","h":103.70,"v":-0.0222},{"s":"30YR","h":104.31,"v":-0.0236},{"s":"30YR","h":104.78,"v":-0.0267},{"s":"30YR","h":105.55,"v":-0.0342},{"s":"30YR","h":106.32,"v":-0.0400},{"s":"30YR","h":107.09,"v":-0.0444},{"s":"30YR","h":107.55,"v":-0.0431},{"s":"30YR","h":108.17,"v":-0.0394}
    ],
    "shade": [
      {"h1": 49.31, "h2": 54.08, "v1": 0.0364, "v2": -0.1049},
      {"h1": 77.50, "h2": 81.66, "v1": 0.0538, "v2": -0.0698}
    ],
    "ring": [
      {"h": 104.47, "v": -0.0529}
    ],
    "last": [
      {"s": "30YR", "v": -0.0394},
      {"s": "2YR", "v": -0.0742},
      {"s": "10YR", "v": -0.0585},
      {"s": "5YR", "v": -0.0626}
    ]
  },
  "layer": [
    {
      "data": {"name": "series"},
      "mark": {"type": "line", "strokeJoin": "round", "strokeCap": "round"},
      "encoding": {
        "x": {
          "field": "h", "type": "quantitative",
          "scale": {"domain": [-9.25, 113.56], "nice": false, "zero": false},
          "axis": {
            "orient": "bottom", "values": [0, 8, 24, 32, 48, 56, 72, 80, 96, 104],
            "labelExpr": "datum.value % 24 === 0 ? '00:00' : '08:00'",
            "grid": true,
            "gridColor": {"condition": {"test": "datum.value % 24 === 0", "value": "#9a9a9a"}, "value": "#b4b4b4"},
            "gridDash": {"condition": {"test": "datum.value % 24 === 0", "value": [1, 0]}, "value": [2, 3]},
            "gridWidth": 1, "tickSize": 4, "tickColor": "#777777", "domainColor": "#777777",
            "labelPadding": 0, "labelFontSize": 10, "labelFlush": false, "labelOverlap": false, "title": null
          }
        },
        "y": {
          "field": "v", "type": "quantitative",
          "scale": {"domain": [-0.1267, 0.0756], "nice": false, "zero": false},
          "axis": {
            "orient": "right", "values": [0.05, 0, -0.05, -0.1], "format": ".2f",
            "grid": true, "gridDash": [2, 3], "gridColor": "#b4b4b4",
            "domainColor": "#777777", "tickColor": "#555555", "tickSize": 5,
            "labelPadding": 3, "labelFontSize": 11, "title": null
          }
        },
        "color": {
          "field": "s", "type": "nominal",
          "scale": {"domain": ["2YR", "5YR", "7YR", "10YR", "30YR"], "range": ["#3a3a3a", "#5a8f22", "#3cd63c", "#2d6db3", "#e8661a"]},
          "legend": null
        },
        "strokeWidth": {
          "condition": [
            {"test": "datum.s === '30YR'", "value": 3.2},
            {"test": "datum.s === '2YR'", "value": 2.6}
          ],
          "value": 1.3
        }
      }
    },
    {
      "data": {"name": "shade"},
      "mark": {"type": "rect", "fill": "#e8485a", "fillOpacity": 0.4},
      "encoding": {
        "x": {
          "field": "h1", "type": "quantitative",
          "axis": {
            "orient": "bottom", "values": [3, 27, 51, 75, 99],
            "labelExpr": "datum.value < 10 ? '09 Sep 2024' : datum.value < 30 ? '10 Sep 2024' : datum.value < 60 ? '11 Sep 2024' : datum.value < 80 ? '12 Sep 2024' : '13 Sep 2024'",
            "ticks": false, "domain": false, "grid": false, "labelPadding": 17, "labelFontSize": 10, "labelOverlap": false, "title": null
          }
        },
        "x2": {"field": "h2"},
        "y": {
          "field": "v1", "type": "quantitative",
          "axis": {"orient": "right", "values": [0.075, 0.025, -0.025, -0.075, -0.125], "labels": false, "domain": false, "grid": false, "tickSize": 3, "tickColor": "#777777", "title": null}
        },
        "y2": {"field": "v2"}
      }
    },
    {
      "data": {"values": [{}]},
      "mark": {"type": "rule", "stroke": "#f29a33", "strokeWidth": 3, "strokeDash": [11, 6]},
      "encoding": {"y": {"datum": 0, "type": "quantitative", "axis": null}}
    },
    {
      "data": {"name": "ring"},
      "mark": {"type": "point", "shape": "M -0.517 0 A 0.517 1 0 1 1 0.517 0 A 0.517 1 0 1 1 -0.517 0 Z", "size": 32400, "filled": false, "stroke": "#5fd45f", "strokeWidth": 2.5, "opacity": 1},
      "encoding": {
        "x": {
          "field": "h", "type": "quantitative",
          "axis": {"orient": "bottom", "values": [-9, 15, 39, 63, 87, 111], "labels": false, "domain": false, "tickSize": 30, "tickColor": "#888888", "grid": true, "gridDash": [2, 3], "gridColor": "#b4b4b4", "title": null}
        },
        "y": {"field": "v", "type": "quantitative", "axis": null}
      }
    },
    {
      "data": {"name": "last"},
      "transform": [{"filter": "datum.s === '30YR'"}],
      "mark": {"type": "point", "shape": "M -1 0 L -0.8 -0.3 L 1 -0.3 L 1 0.3 L -0.8 0.3 Z", "size": 2500, "filled": true, "opacity": 1, "strokeWidth": 0, "yOffset": -4},
      "encoding": {
        "x": {"datum": 117.57, "type": "quantitative", "axis": null},
        "y": {"field": "v", "type": "quantitative", "axis": null},
        "color": {
          "field": "s", "type": "nominal",
          "legend": {
            "orient": "none", "legendX": 69, "legendY": 289,
            "title": ["Normalized As Of 09/06/2024", "Last Price"],
            "titleAnchor": "middle", "titleFontSize": 11, "titleFontWeight": "normal", "titleColor": "#222222", "titlePadding": 3,
            "labelFontSize": 11, "labelColor": "#222222", "labelLimit": 300,
            "labelExpr": "'USGG' + datum.label + ' Index' + (datum.label === '2YR' ? '\u00a0\u00a0\u00a0\u00a0-0.0742' : datum.label === '5YR' ? '\u00a0\u00a0\u00a0\u00a0-0.0626' : datum.label === '7YR' ? '\u00a0\u00a0\u00a0\u00a0-0.0639' : datum.label === '10YR' ? '\u00a0\u00a0-0.0585' : '\u00a0\u00a0-0.0394')",
            "symbolType": "square", "symbolSize": 90, "symbolStrokeWidth": 0,
            "rowPadding": 3.5, "padding": 7, "fillColor": "#ffffff", "strokeColor": "#8a8a8a", "cornerRadius": 5
          }
        }
      }
    },
    {
      "data": {"name": "last"},
      "transform": [{"filter": "datum.s === '30YR'"}],
      "mark": {"type": "text", "fontSize": 10.5, "dx": 3, "yOffset": -4, "align": "center", "baseline": "middle", "color": "#5a1e00"},
      "encoding": {
        "x": {"datum": 117.57, "type": "quantitative", "axis": null},
        "y": {"field": "v", "type": "quantitative", "axis": null},
        "text": {"field": "v", "type": "quantitative", "format": ".4f"}
      }
    },
    {
      "data": {"name": "last"},
      "transform": [{"filter": "datum.s === '2YR'"}],
      "mark": {"type": "point", "shape": "M -1 0 L -0.8 -0.3 L 1 -0.3 L 1 0.3 L -0.8 0.3 Z", "size": 2500, "filled": true, "opacity": 1, "strokeWidth": 0},
      "encoding": {
        "x": {"datum": 117.57, "type": "quantitative", "axis": null},
        "y": {"field": "v", "type": "quantitative", "axis": null},
        "color": {"field": "s", "type": "nominal", "legend": null}
      }
    },
    {
      "data": {"name": "last"},
      "transform": [{"filter": "datum.s === '2YR'"}],
      "mark": {"type": "text", "fontSize": 10.5, "dx": 3, "align": "center", "baseline": "middle", "color": "#f0f0f0"},
      "encoding": {
        "x": {"datum": 117.57, "type": "quantitative", "axis": null},
        "y": {"field": "v", "type": "quantitative", "axis": null},
        "text": {"field": "v", "type": "quantitative", "format": ".4f"}
      }
    },
    {
      "data": {"name": "last"},
      "transform": [{"filter": "datum.s === '10YR'"}],
      "mark": {"type": "point", "shape": "M -1 0 L -0.8 -0.3 L 1 -0.3 L 1 0.3 L -0.8 0.3 Z", "size": 2500, "filled": true, "opacity": 1, "strokeWidth": 0, "yOffset": -6},
      "encoding": {
        "x": {"datum": 117.57, "type": "quantitative", "axis": null},
        "y": {"field": "v", "type": "quantitative", "axis": null},
        "color": {"field": "s", "type": "nominal", "legend": null}
      }
    },
    {
      "data": {"name": "last"},
      "transform": [{"filter": "datum.s === '10YR'"}],
      "mark": {"type": "text", "fontSize": 10.5, "dx": 3, "yOffset": -6, "align": "center", "baseline": "middle", "color": "#f0f0f0"},
      "encoding": {
        "x": {"datum": 117.57, "type": "quantitative", "axis": null},
        "y": {"field": "v", "type": "quantitative", "axis": null},
        "text": {"field": "v", "type": "quantitative", "format": ".4f"}
      }
    },
    {
      "data": {"name": "last"},
      "transform": [{"filter": "datum.s === '5YR'"}],
      "mark": {"type": "point", "shape": "M -1 0 L -0.8 -0.3 L 1 -0.3 L 1 0.3 L -0.8 0.3 Z", "size": 2500, "filled": true, "opacity": 1, "strokeWidth": 0},
      "encoding": {
        "x": {"datum": 117.57, "type": "quantitative", "axis": null},
        "y": {"field": "v", "type": "quantitative", "axis": null},
        "color": {"field": "s", "type": "nominal", "legend": null}
      }
    },
    {
      "data": {"name": "last"},
      "transform": [{"filter": "datum.s === '5YR'"}],
      "mark": {"type": "text", "fontSize": 10.5, "dx": 3, "align": "center", "baseline": "middle", "color": "#f0f0f0"},
      "encoding": {
        "x": {"datum": 117.57, "type": "quantitative", "axis": null},
        "y": {"field": "v", "type": "quantitative", "axis": null},
        "text": {"field": "v", "type": "quantitative", "format": ".4f"}
      }
    }
  ],
  "resolve": {"axis": {"x": "independent", "y": "independent"}, "legend": {"color": "independent"}}
}
